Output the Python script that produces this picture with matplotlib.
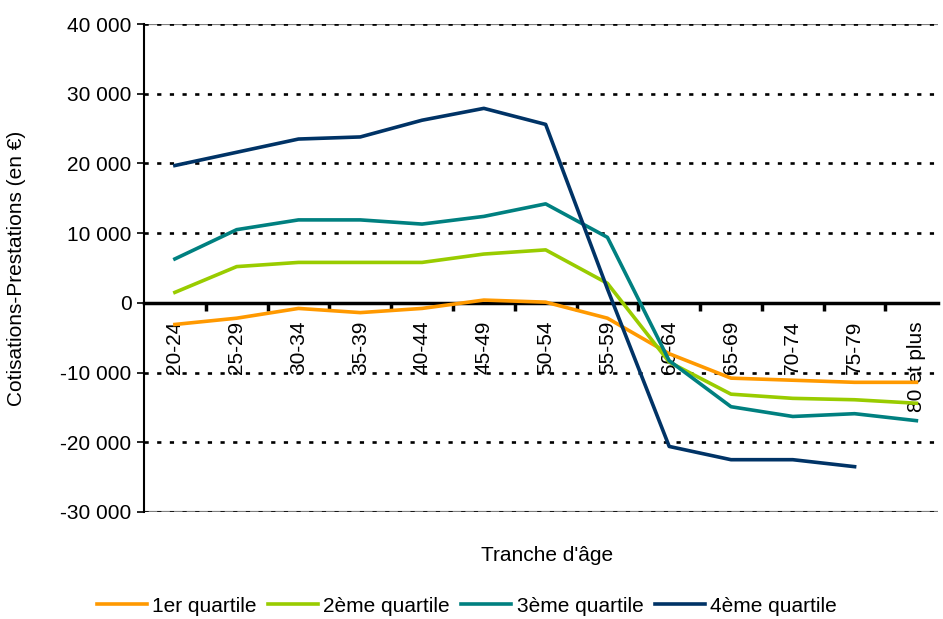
import numpy as np
import matplotlib.pyplot as plt
from matplotlib.ticker import FuncFormatter

plt.rcParams['font.family'] = ['Liberation Sans', 'DejaVu Sans']

# Age bands and contributions minus benefits (en €) by income quartile
tranches = ["20-24", "25-29", "30-34", "35-39", "40-44", "45-49", "50-54",
            "55-59", "60-64", "65-69", "70-74", "75-79", "80 et plus"]
q1 = [-3100, -2200, -800, -1400, -800, 400, 100, -2200, -7300, -10800, -11100, -11400, -11400]
q2 = [1500, 5200, 5800, 5800, 5800, 7000, 7600, 2800, -8500, -13100, -13700, -13900, -14400]
q3 = [6300, 10500, 11900, 11900, 11300, 12400, 14200, 9400, -8300, -14900, -16300, -15900, -16900]
q4 = [19700, 21600, 23500, 23800, 26200, 27900, 25600, 2000, -20600, -22500, -22500, -23500, np.nan]

series = [("1er quartile", q1, "#FF9900"),
          ("2ème quartile", q2, "#99CC00"),
          ("3ème quartile", q3, "#008080"),
          ("4ème quartile", q4, "#003366")]

fig = plt.figure(figsize=(9.43, 6.19), dpi=100)
ax = fig.add_axes([0.1527, 0.1729, 0.842, 0.7883])

x = np.arange(len(tranches))

# plot frame (grey top/bottom) and dotted grid
ax.axhline(40000, color="#808080", lw=1.6, zorder=1)
ax.axhline(-30000, color="#808080", lw=1.6, zorder=1)
for yv in range(-30000, 40001, 10000):
    if yv != 0:
        ax.axhline(yv, color="black", lw=1.9, linestyle=(0, (1.6, 3.2)), zorder=1.5)

for name, vals, col in series:
    ax.plot(x, vals, color=col, lw=2.6, label=name, zorder=3)

ax.set_ylim(-30000, 40000)
ax.set_xlim(-0.5, 12.35)
ax.set_yticks(range(-30000, 40001, 10000))
ax.yaxis.set_major_formatter(FuncFormatter(lambda v, p: f"{int(v):,}".replace(",", " ")))
ax.tick_params(axis="y", direction="out", length=5, width=1.2, labelsize=15, pad=4)

ax.spines["top"].set_visible(False)
ax.spines["right"].set_visible(False)
ax.spines["left"].set_linewidth(1.5)
ax.spines["bottom"].set_position(("data", 0))
ax.spines["bottom"].set_linewidth(2.5)
ax.spines["bottom"].set_zorder(2)

ax.set_xticks(x)
ax.set_xticklabels(tranches, rotation=90, va="top", ha="center")
ax.tick_params(axis="x", which="major", length=0, labelsize=15, pad=13)
ax.set_xticks(np.arange(0.5, 12, 1), minor=True)
ax.tick_params(axis="x", which="minor", direction="out", length=6, width=2.5)

ax.set_ylabel("Cotisations-Prestations (en €)", fontsize=15)
ax.yaxis.set_label_coords(-0.148, 0.5)
fig.text(0.58, 0.103, "Tranche d'âge", fontsize=15, ha="center", va="center")

fig.legend(loc="center", bbox_to_anchor=(0.495, 0.021), ncol=4, frameon=False,
           fontsize=15, handlelength=2.4, handletextpad=0.25, columnspacing=0.55)

fig.savefig("out.png", dpi=100)
